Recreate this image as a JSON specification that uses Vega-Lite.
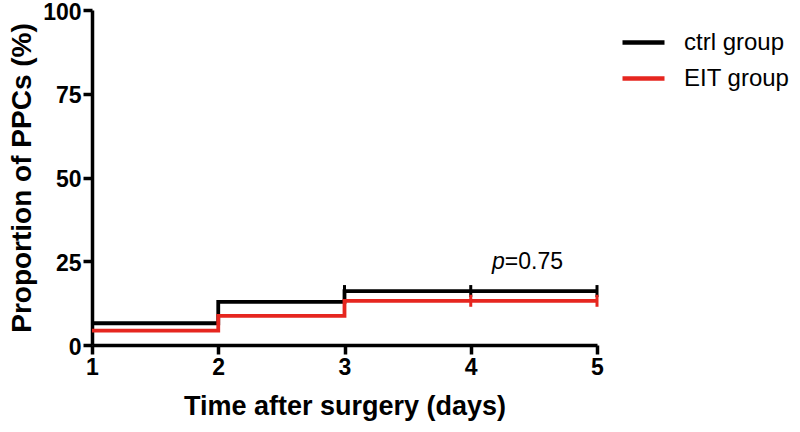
{
  "$schema": "https://vega.github.io/schema/vega-lite/v6.json",
  "width": 505,
  "height": 335,
  "autosize": "none",
  "padding": {"left": 92, "top": 10, "right": 203, "bottom": 87},
  "background": "white",
  "config": {
    "view": {"stroke": null},
    "font": "Liberation Sans"
  },
  "datasets": {
    "curves": [
      {"day": 1, "pct": 6.5, "group": "ctrl group"},
      {"day": 2, "pct": 12.9, "group": "ctrl group"},
      {"day": 3, "pct": 16.1, "group": "ctrl group"},
      {"day": 5, "pct": 16.1, "group": "ctrl group"},
      {"day": 1, "pct": 4.3, "group": "EIT group"},
      {"day": 2, "pct": 8.7, "group": "EIT group"},
      {"day": 3, "pct": 13.2, "group": "EIT group"},
      {"day": 5, "pct": 13.2, "group": "EIT group"}
    ],
    "censor": [
      {"day": 3, "pct": 16.1, "group": "ctrl group"},
      {"day": 4, "pct": 16.1, "group": "ctrl group"},
      {"day": 5, "pct": 16.1, "group": "ctrl group"},
      {"day": 4, "pct": 13.2, "group": "EIT group"},
      {"day": 5, "pct": 13.2, "group": "EIT group"}
    ],
    "note": [{"day": 4.27, "pct": 24.8, "a": "p", "b": "=0.75"}]
  },
  "layer": [
    {
      "data": {"name": "curves"},
      "mark": {"type": "line", "interpolate": "step-after", "strokeWidth": 3.8},
      "encoding": {
        "x": {"field": "day", "type": "quantitative", "scale": {"domain": [1, 5], "zero": false, "nice": false},
              "axis": {"values": [1, 2, 3, 4, 5], "format": "d", "title": "Time after surgery (days)", "titlePadding": 14, "labelPadding": 2, "labelFlush": false,
                       "grid": false, "domainColor": "black", "domainWidth": 3.5, "tickColor": "black", "tickWidth": 3.5, "tickSize": 9,
                       "labelFont": "Liberation Sans", "labelFontSize": 23, "labelFontWeight": "bold", "labelColor": "black",
                       "titleFont": "Liberation Sans", "titleFontSize": 27, "titleFontWeight": "bold", "titleColor": "black"}},
        "y": {"field": "pct", "type": "quantitative", "scale": {"domain": [0, 100], "nice": false},
              "axis": {"values": [0, 25, 50, 75, 100], "title": "Proportion of PPCs (%)", "titlePadding": 6, "labelPadding": 2, "labelFlush": false, "labelOffset": 2,
                       "grid": false, "domainColor": "black", "domainWidth": 3.5, "tickColor": "black", "tickWidth": 3.5, "tickSize": 9,
                       "labelFont": "Liberation Sans", "labelFontSize": 23, "labelFontWeight": "bold", "labelColor": "black",
                       "titleFont": "Liberation Sans", "titleFontSize": 28, "titleFontWeight": "bold", "titleColor": "black"}},
        "color": {"field": "group", "type": "nominal",
                  "scale": {"domain": ["ctrl group", "EIT group"], "range": ["#000000", "#e6261f"]},
                  "legend": {"title": null, "orient": "none", "legendX": 528, "legendY": 9, "padding": 0,
                             "symbolType": "stroke", "symbolSize": 1764, "symbolStrokeWidth": 4.5,
                             "labelFontSize": 24, "labelFont": "Liberation Sans", "labelColor": "black",
                             "labelOffset": 17, "rowPadding": -5}}
      }
    },
    {
      "data": {"name": "censor"},
      "mark": {"type": "tick", "orient": "vertical", "size": 12, "thickness": 3, "opacity": 1},
      "encoding": {
        "x": {"field": "day", "type": "quantitative"},
        "y": {"field": "pct", "type": "quantitative"},
        "color": {"field": "group", "type": "nominal", "legend": null}
      }
    },
    {
      "data": {"name": "note"},
      "mark": {"type": "text", "align": "right", "baseline": "middle", "fontSize": 23, "fontStyle": "italic", "font": "Liberation Sans", "color": "black"},
      "encoding": {
        "x": {"field": "day", "type": "quantitative"},
        "y": {"field": "pct", "type": "quantitative"},
        "text": {"field": "a"}
      }
    },
    {
      "data": {"name": "note"},
      "mark": {"type": "text", "align": "left", "baseline": "middle", "fontSize": 23, "font": "Liberation Sans", "color": "black"},
      "encoding": {
        "x": {"field": "day", "type": "quantitative"},
        "y": {"field": "pct", "type": "quantitative"},
        "text": {"field": "b"}
      }
    }
  ]
}
